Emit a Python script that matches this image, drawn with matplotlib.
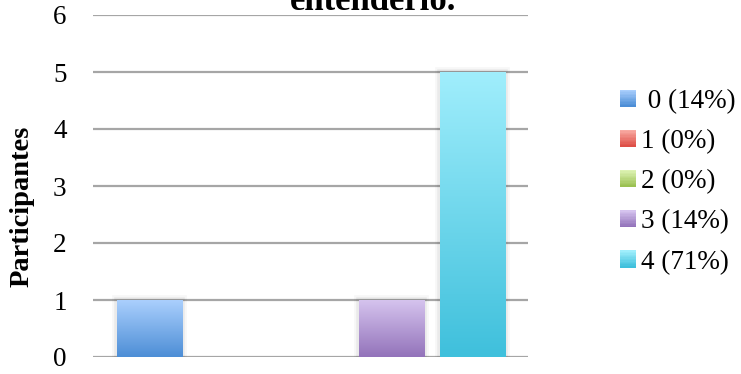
import numpy as np
import matplotlib
matplotlib.use("Agg")
import matplotlib.pyplot as plt
from matplotlib.patches import Rectangle
from matplotlib.legend_handler import HandlerBase
from matplotlib import patheffects as pe
from matplotlib.colors import to_rgb

# ---- data ----
categories = ["0", "1", "2", "3", "4"]
values = [1, 0, 0, 1, 5]
legend_labels = [" 0 (14%)", "1 (0%)", "2 (0%)", "3 (14%)", "4 (71%)"]
title_text = "entenderlo."
ylabel_text = "Participantes"
yticks = [0, 1, 2, 3, 4, 5, 6]

# gradient colours (top, bottom)
grad_top = ["#aacffd", "#f8aaa2", "#ddf2b3", "#d5c3ee", "#a0eefc"]
grad_bot = ["#4d8ed6", "#de4f47", "#9bc152", "#9373ba", "#3fc0dc"]

plt.rcParams['font.family'] = ['Liberation Serif', 'DejaVu Serif']

W, H = 741, 374
fig = plt.figure(figsize=(W / 100, H / 100), dpi=100)
ax = fig.add_axes([93 / W, (H - 357) / H, (528 - 93) / W, (357 - 15) / H])

x = np.arange(len(categories))
bw = 0.81
FS = 19.5


def mixcol(c1, c2, t):
    a, b = np.array(to_rgb(c1)), np.array(to_rgb(c2))
    return a * (1 - t) + b * t


bars = ax.bar(x, values, width=bw,
              color=[mixcol(t, b, 0.5) for t, b in zip(grad_top, grad_bot)],
              zorder=3)
for i, p in enumerate(bars):
    if values[i] <= 0:
        continue
    p.set_path_effects([pe.Stroke(linewidth=7, foreground='black', alpha=0.03),
                        pe.Stroke(linewidth=4, foreground='black', alpha=0.05),
                        pe.Normal()])
    n = 100
    ts = np.linspace(0, 1, n)
    img = np.array([mixcol(grad_top[i], grad_bot[i], tt) for tt in ts])[:, None, :]
    x0 = p.get_x()
    im = ax.imshow(img, extent=[x0, x0 + p.get_width(), 0, p.get_height()],
                   aspect='auto', zorder=4, interpolation='bilinear', origin='upper')
    im.set_clip_path(p)

ax.set_xlim(-0.70, 4.69)
ax.set_ylim(0, 6)
ax.set_yticks(yticks)
ax.set_xticks([])
ax.yaxis.grid(True, color='#a6a6a6', linewidth=1.6, zorder=0)
ax.set_axisbelow(True)
for s in ax.spines.values():
    s.set_visible(False)
ax.tick_params(axis='y', length=0, pad=19, labelsize=FS)

ax.set_ylabel(ylabel_text, fontsize=20.5, fontweight='bold')
ax.yaxis.set_label_coords(-(93 - 35) / (528 - 93), (357 - 206) / (357 - 15))

fig.text(373 / W, 1 - 10 / H, title_text, ha='center', va='baseline',
         fontsize=25, fontweight='bold')


class GradHandler(HandlerBase):
    def __init__(self, top, bot):
        super().__init__()
        self.top, self.bot = top, bot

    def create_artists(self, legend, orig_handle, xdescent, ydescent,
                       width, height, fontsize, trans):
        arts = []
        n = 12
        for k in range(n):
            c = mixcol(self.top, self.bot, k / (n - 1))
            r = Rectangle((-xdescent, -ydescent + height * (n - 1 - k) / n),
                          width, height / n + 0.3, facecolor=c, edgecolor='none',
                          transform=trans)
            arts.append(r)
        return arts


handles = [Rectangle((0, 0), 1, 1) for _ in categories]
hmap = {h: GradHandler(t, b) for h, t, b in zip(handles, grad_top, grad_bot)}
fig.legend(handles, legend_labels, handler_map=hmap,
           loc='upper left', bbox_to_anchor=(620 / W, 1 - 89 / H),
           frameon=False, fontsize=FS, handlelength=0.58, handleheight=0.58,
           handletextpad=0.2, labelspacing=0.56, borderpad=0, borderaxespad=0)

fig.savefig("out.png", dpi=100)
